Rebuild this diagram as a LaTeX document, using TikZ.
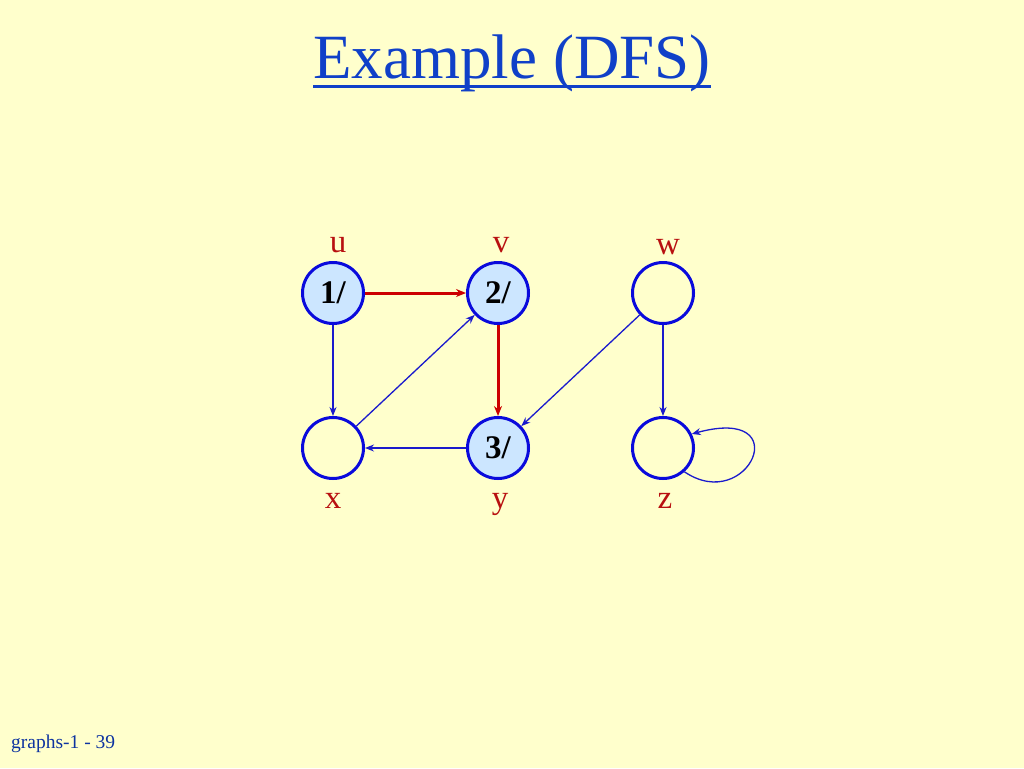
\documentclass[tikz,border=0pt]{standalone}
\usepackage{fontspec}
\setmainfont{Liberation Serif}
\usetikzlibrary{arrows.meta}
\definecolor{slidebg}{HTML}{FFFFCC}
\definecolor{vblue}{HTML}{0A0ADC}
\definecolor{eblue}{HTML}{1A1ACC}
\definecolor{ered}{HTML}{CC0000}
\definecolor{lred}{HTML}{B81010}
\definecolor{vfill}{HTML}{CCE6FF}
\definecolor{ttl}{HTML}{1040C8}
\begin{document}
\begin{tikzpicture}[x=1pt, y=-1pt,
vert/.style={circle, draw=vblue, line width=3pt, minimum size=61pt, inner sep=0pt,
    font=\fontsize{33}{33}\selectfont\bfseries},
seen/.style={vert, fill=vfill},
lbl/.style={text=lred, font=\fontsize{33}{33}\selectfont, inner sep=0pt},
edge/.style={draw=eblue, line width=1.3pt, -{Stealth[length=9pt,width=7pt]}},
tree/.style={draw=ered, line width=3pt, -{Stealth[length=10pt,width=8pt]}}
]
\useasboundingbox[fill=slidebg] (0,0) rectangle (1024,768);
\node (title) [text=ttl, font=\fontsize{63}{63}\selectfont, inner sep=0pt, anchor=base] at (512,78) {Example (DFS)};
\coordinate (ul1) at (title.base west); \coordinate (ul2) at (title.base east);
\draw[ttl, line width=3pt] ([yshift=-8pt]ul1) -- ([yshift=-8pt]ul2);
\node (foot) [text=ttl!80!black, font=\fontsize{19.5}{19.5}\selectfont, anchor=base west, inner sep=0pt] at (11,748) {graphs-1 - 39};

% vertices
\node (u) [seen] at (333,293) {1/};
\node (v) [seen] at (498,293) {2/};
\node (w) [vert] at (663,293) {};
\node (x) [vert] at (333,448) {};
\node (y) [seen] at (498,448) {3/};
\node (z) [vert] at (663,448) {};

% vertex names
\foreach \n/\a/\b in {u/338/252, v/501/252, w/668/254, x/333/508, y/500/508, z/665/508}
    \node (l\n) [lbl, anchor=base] at (\a,\b) {\n};

% edges
\foreach \i/\j in {u/v, v/y}
    \draw [tree] (\i) -- (\j);
\foreach \i/\j in {u/x, x/v, y/x, w/y, w/z}
    \draw [edge] (\i) -- (\j);
\draw [edge] (z.-48) .. controls (748,515) and (798,405) .. (z.26);
\end{tikzpicture}
\end{document}
